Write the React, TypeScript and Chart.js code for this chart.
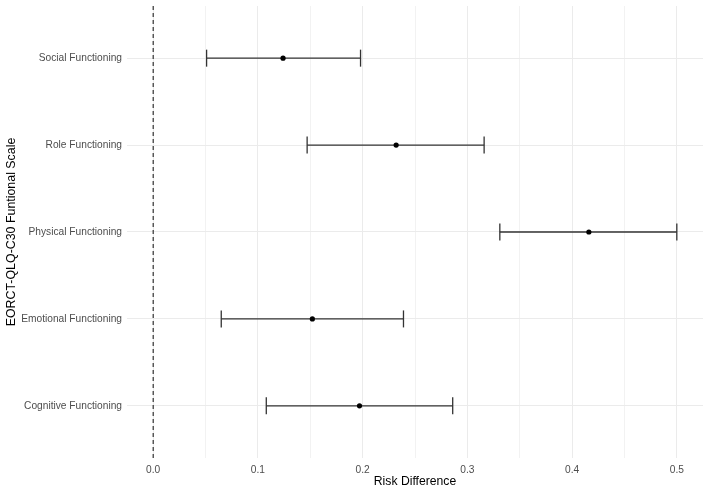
import React, { useEffect, useRef } from "react";
import { Chart, registerables } from "chart.js";

Chart.register(...registerables);

// Bottom-to-top order (y = 0..4)
const categories = [
  "Cognitive Functioning",
  "Emotional Functioning",
  "Physical Functioning",
  "Role Functioning",
  "Social Functioning",
];
const estimates = [0.197, 0.152, 0.416, 0.232, 0.124];
const lowerCI = [0.108, 0.065, 0.331, 0.147, 0.051];
const upperCI = [0.286, 0.239, 0.5, 0.316, 0.198];
const referenceLine = 0;
const xMajorTicks = [0, 0.1, 0.2, 0.3, 0.4, 0.5];
const xMinorTicks = [0.05, 0.15, 0.25, 0.35, 0.45];
const xTickLabels = ["0.0", "0.1", "0.2", "0.3", "0.4", "0.5"];
const xTitle = "Risk Difference";
const yTitle = "EORCT-QLQ-C30 Funtional Scale";

const FONT = "'Liberation Sans', Arial, sans-serif";

export default function App() {
  const ref = useRef<HTMLCanvasElement | null>(null);

  useEffect(() => {
    if (!ref.current) return;
    const errorBarSets = categories.map((c, i) => ({
      label: c + " CI",
      data: [
        { x: lowerCI[i], y: i },
        { x: upperCI[i], y: i },
      ],
      showLine: true,
      borderColor: "#333333",
      borderWidth: 1.3,
      pointStyle: "line",
      pointRotation: 90,
      pointRadius: 8.5,
      pointHoverRadius: 8.5,
      pointBorderColor: "#333333",
      pointBorderWidth: 1.3,
      order: 2,
    }));
    const allX = [...xMajorTicks, ...xMinorTicks].sort((a, b) => a - b);
    const chart = new Chart(ref.current, {
      type: "scatter",
      data: {
        datasets: [
          {
            label: "Estimate",
            data: estimates.map((v, i) => ({ x: v, y: i })),
            backgroundColor: "#000000",
            borderColor: "#000000",
            pointRadius: 2.6,
            pointHoverRadius: 2.6,
            borderWidth: 0,
            order: 1,
          },
          ...errorBarSets,
          {
            label: "Reference",
            data: [
              { x: referenceLine, y: -0.6 },
              { x: referenceLine, y: categories.length - 0.4 },
            ],
            showLine: true,
            borderColor: "#222222",
            borderWidth: 1.1,
            borderDash: [4, 3],
            pointRadius: 0,
            pointHoverRadius: 0,
            order: 3,
          },
        ] as any,
      },
      options: {
        animation: false,
        responsive: true,
        maintainAspectRatio: false,
        events: [],
        layout: {
          autoPadding: false,
          padding: { top: 6, right: 2, left: 0, bottom: 0 },
        },
        plugins: {
          legend: { display: false },
          tooltip: { enabled: false },
        },
        scales: {
          x: {
            type: "linear",
            min: -0.025,
            max: 0.525,
            afterBuildTicks: (scale: any) => {
              scale.ticks = allX.map((v) => ({ value: v }));
            },
            afterFit: (scale: any) => {
              scale.height = 36;
              scale.paddingLeft = 0;
              scale.paddingRight = 0;
            },
            ticks: {
              autoSkip: false,
              maxRotation: 0,
              padding: 6,
              color: "#4d4d4d",
              font: { family: FONT, size: 10.2 },
              callback: (value: any) => {
                const idx = xMajorTicks.findIndex(
                  (t) => Math.abs(t - Number(value)) < 1e-9
                );
                return idx >= 0 ? xTickLabels[idx] : "";
              },
            },
            grid: {
              drawTicks: false,
              color: (ctx: any) => {
                const v = ctx.tick ? ctx.tick.value : 0;
                const major = xMajorTicks.some((t) => Math.abs(t - v) < 1e-9);
                return major ? "#ebebeb" : "#f2f2f2";
              },
              lineWidth: 1,
            },
            border: { display: false },
            title: {
              display: true,
              text: xTitle,
              color: "#000000",
              font: { family: FONT, size: 12.2 },
              padding: { top: 0, bottom: 5 },
            },
          },
          y: {
            type: "linear",
            min: -0.6,
            max: categories.length - 0.4,
            afterBuildTicks: (scale: any) => {
              scale.ticks = categories.map((_, i) => ({ value: i }));
            },
            afterFit: (scale: any) => {
              scale.width = 127;
              scale.paddingTop = 0;
              scale.paddingBottom = 0;
            },
            ticks: {
              autoSkip: false,
              padding: 5,
              color: "#4d4d4d",
              font: { family: FONT, size: 10.2 },
              callback: (value: any) => categories[Number(value)] ?? "",
            },
            grid: {
              drawTicks: false,
              color: "#ebebeb",
              lineWidth: 1,
            },
            border: { display: false },
            title: {
              display: true,
              text: yTitle,
              color: "#000000",
              font: { family: FONT, size: 12.4 },
              padding: { top: 4.6, bottom: 0 },
            },
          },
        },
      } as any,
    });
    return () => chart.destroy();
  }, []);

  return (
    <div
      style={{
        position: "absolute",
        left: 0,
        top: 0,
        width: 705,
        height: 494,
        background: "#ffffff",
      }}
    >
      <canvas ref={ref} />
    </div>
  );
}
